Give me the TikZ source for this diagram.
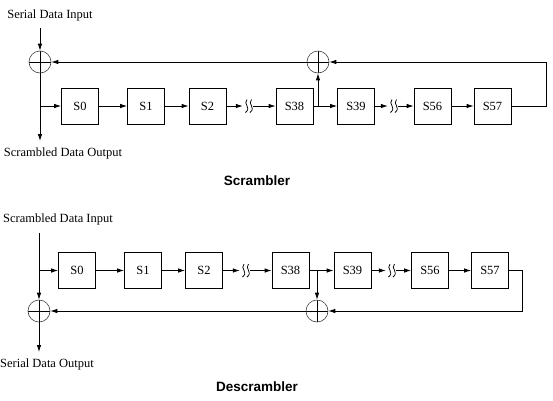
\documentclass[tikz,border=0pt]{standalone}
\usepackage{fontspec}
\setmainfont{Liberation Serif}
\newfontfamily\titlefont{Liberation Sans}
\usetikzlibrary{arrows.meta}
\tikzset{
  x=1pt, y=-1pt,
  conn/.style={line width=0.8pt, -{Latex[length=7pt,width=4.5pt]}},
  plain/.style={line width=0.8pt},
  reg/.style={draw, line width=0.8pt, minimum width=37pt, minimum height=36pt, inner sep=0pt, font=\fontsize{12.5}{14}\selectfont},
  xorgate/.style={circle, draw=black!75, line width=0.6pt, minimum size=22pt, inner sep=0pt,
    path picture={\draw[black, line width=0.8pt] (path picture bounding box.north) -- (path picture bounding box.south)
      (path picture bounding box.west) -- (path picture bounding box.east);}},
  brk/.style={minimum width=10pt, minimum height=13pt, inner sep=0pt},
  lbl/.style={font=\fontsize{12.5}{14}\selectfont, inner sep=0pt},
  ttl/.style={font=\titlefont\bfseries\fontsize{13.5}{15}\selectfont, inner sep=0pt},
  squig/.pic={\draw[line width=0.75pt] (-1,-6.5) .. controls (-5.5,-2) and (4,1.5) .. (-2.5,6.5);
              \draw[line width=0.75pt] (3.5,-6.5) .. controls (-1,-2) and (8.5,1.5) .. (2,6.5);}
}
\begin{document}
\begin{tikzpicture}
\useasboundingbox (0,0) rectangle (553,400);
% ---------- Scrambler ----------
\node[lbl] (lin1) at (50,15) {Serial Data Input};
\coordinate (in1) at (40,28);
\node[xorgate] (xa1) at (40,62) {};
\node[xorgate] (xb1) at (318,62) {};
\node[reg] (s0) at (80,106) {S0};
\node[reg] (s1) at (146,106) {S1};
\node[reg] (s2) at (207.5,106) {S2};
\node[brk] (k1) at (248,106) {};
\node[reg] (s38) at (294.5,106) {S38};
\node[reg] (s39) at (356,106) {S39};
\node[brk] (k2) at (393,106) {};
\node[reg] (s56) at (432.5,106) {S56};
\node[reg] (s57) at (492.5,106) {S57};
\coordinate (out1) at (40,141);
\node[lbl] (lout1) at (63,153) {Scrambled Data Output};
\node[ttl] (t1) at (257,181) {Scrambler};
\pic at (k1) {squig};
\pic at (k2) {squig};
\draw[conn] (in1) -- (xa1.north);
\draw[conn] (xa1.south) -- (out1);
\draw[conn] (xa1.south |- s0.west) -- (s0.west);
\draw[conn] (s0) -- (s1);
\draw[conn] (s1) -- (s2);
\draw[conn] (s2.east) -- (k1.west);
\draw[conn] (k1.east) -- (s38.west);
\draw[conn] (s38) -- (s39);
\draw[conn] (s39.east) -- (k2.west);
\draw[conn] (k2.east) -- (s56.west);
\draw[conn] (s56) -- (s57);
\draw[conn] (s38.east -| xb1) -- (xb1.south);
\draw[conn] (s57.east) -- ++(35,0) |- (xb1.east);
\draw[conn] (xb1.west) -- (xa1.east);
% ---------- Descrambler ----------
\node[lbl] (lin2) at (58,219) {Scrambled Data Input};
\coordinate (in2) at (39,233);
\node[reg] (d0) at (77,270.5) {S0};
\node[reg] (d1) at (143,270.5) {S1};
\node[reg] (d2) at (204,270.5) {S2};
\node[brk] (k3) at (245,270.5) {};
\node[reg] (d38) at (290.5,270.5) {S38};
\node[reg] (d39) at (352.5,270.5) {S39};
\node[brk] (k4) at (391,270.5) {};
\node[reg] (d56) at (430,270.5) {S56};
\node[reg] (d57) at (490,270.5) {S57};
\node[xorgate] (xa2) at (39,311) {};
\node[xorgate] (xb2) at (317,311) {};
\coordinate (out2) at (39,352);
\node[lbl] (lout2) at (47,364) {Serial Data Output};
\node[ttl] (t2) at (257,387) {Descrambler};
\pic at (k3) {squig};
\pic at (k4) {squig};
\draw[conn] (in2) -- (xa2.north);
\draw[conn] (in2 |- d0.west) -- (d0.west);
\draw[conn] (xa2.south) -- (out2);
\draw[conn] (d0) -- (d1);
\draw[conn] (d1) -- (d2);
\draw[conn] (d2.east) -- (k3.west);
\draw[conn] (k3.east) -- (d38.west);
\draw[conn] (d38) -- (d39);
\draw[conn] (d39.east) -- (k4.west);
\draw[conn] (k4.east) -- (d56.west);
\draw[conn] (d56) -- (d57);
\draw[conn] (d38.east -| xb2) -- (xb2.north);
\draw[conn] (d57.east) -- ++(13,0) |- (xb2.east);
\draw[conn] (xb2.west) -- (xa2.east);
\end{tikzpicture}
\end{document}
